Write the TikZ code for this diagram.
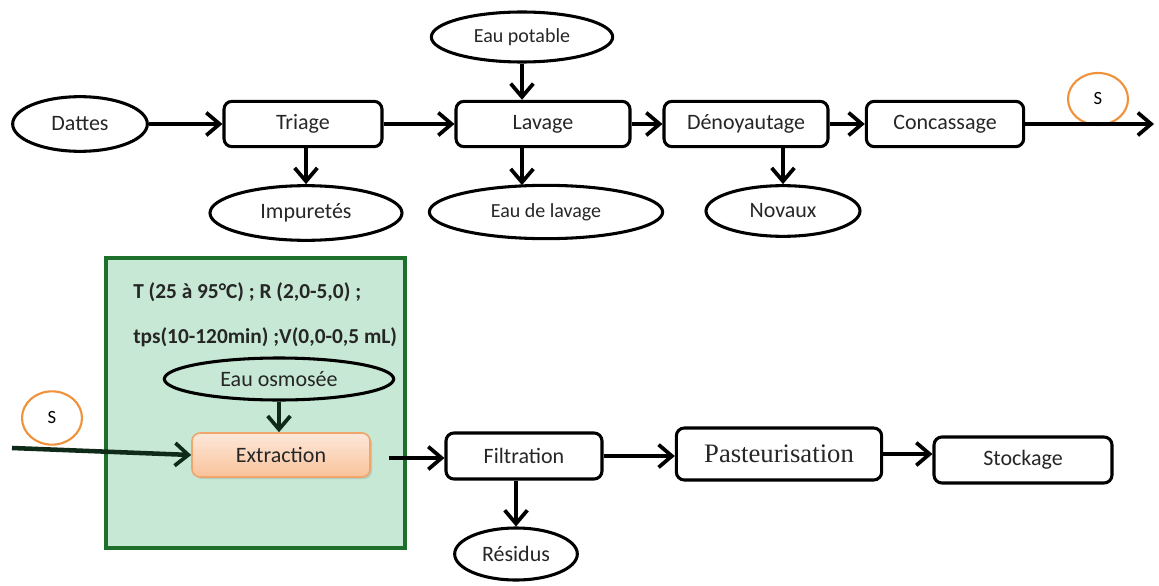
\documentclass[tikz,border=0pt]{standalone}
\usepackage{fontspec}
\setmainfont{Carlito}
\newfontfamily\serifont{Liberation Serif}
\usetikzlibrary{arrows.meta,shapes.geometric,shadows}
\definecolor{boxgreen}{HTML}{C6E8D4}
\definecolor{boxgreenline}{HTML}{1E6E2C}
\definecolor{sorange}{HTML}{F0923C}
\definecolor{extrtop}{HTML}{FDE8DA}
\definecolor{extrbot}{HTML}{F9C29A}
\definecolor{extrline}{HTML}{F0A66A}
\definecolor{txt}{HTML}{262626}
\definecolor{darkarr}{HTML}{0F2A18}
\tikzset{
  proc/.style={draw, line width=2.3pt, rounded corners=6pt, text=txt, font=\fontsize{16.5}{18}\selectfont, inner sep=0pt},
  ell/.style={ellipse, draw, line width=2.3pt, inner sep=0pt, text=txt, font=\fontsize{16.5}{18}\selectfont},
  smallell/.style={ell, font=\fontsize{15}{17}\selectfont},
  scirc/.style={ellipse, draw=sorange, line width=1.6pt, inner sep=0pt, font=\fontsize{14}{16}\selectfont},
  arr/.style={line width=3.4pt, -{Straight Barb[length=10pt,width=17pt,line width=2.8pt]}},
  cond/.style={anchor=west, font=\bfseries\fontsize{16}{18}\selectfont, text=txt, inner sep=0pt}
}
\begin{document}
\begin{tikzpicture}[x=0.75pt,y=-0.75pt]
\useasboundingbox (0,0) rectangle (1159,585);
% top row
\node[ell, minimum width=101pt, minimum height=41pt] (dattes) at (80,124) {Dattes};
\node[proc, minimum width=118.5pt, minimum height=34pt] (triage) at (303,124) {Triage};
\node[proc, minimum width=130.5pt, minimum height=34pt] (lavage) at (543,124) {Lavage};
\node[smallell, minimum width=136pt, minimum height=37.5pt] (eaupot) at (522,37) {Eau potable};
\node[proc, minimum width=123pt, minimum height=34pt] (denoy) at (746,124) {Dénoyautage};
\node[proc, minimum width=118pt, minimum height=34pt] (conc) at (945,124) {Concassage};
\node[scirc, minimum width=45pt, minimum height=39pt] (s1) at (1098,99) {S};
\coordinate (topend) at (1154,124);
\node[ell, minimum width=144pt, minimum height=41pt] (impur) at (306,213) {Impuretés};
\node[smallell, minimum width=175pt, minimum height=40pt] (eaulav) at (546,212) {Eau de lavage};
\node[ell, minimum width=115.5pt, minimum height=38pt] (novaux) at (783,211) {Novaux};

\draw[arr] (dattes) -- (triage);
\draw[arr] (triage) -- (lavage);
\draw[arr] (lavage) -- (denoy);
\draw[arr] (denoy) -- (conc);
\draw[arr] (conc) -- (topend);
\draw[arr] (eaupot.south) -- (eaupot.south |- lavage.north);
\draw[arr] (impur.north |- triage.south) -- (impur.north);
\draw[arr] (eaupot.south |- lavage.south) -- ([yshift=-1pt]eaupot.south |- eaulav.north);
\draw[arr] (novaux.north |- denoy.south) -- (novaux.north);

% bottom row
\node[draw=boxgreenline, fill=boxgreen, line width=3pt, minimum width=224pt, minimum height=217.5pt, inner sep=0pt] (green) at (255.5,403) {};
\node[cond] (c1) at (133,292) {T (25 à 95°C) ; R (2,0-5,0) ;};
\node[cond] (c2) at (133,337) {tps(10-120min) ;V(0,0-0,5 mL)};
\node[ell, fill=boxgreen, minimum width=172pt, minimum height=31.5pt] (eauosm) at (279,379) {Eau osmosée};
\node[draw=extrline, line width=1.2pt, rounded corners=6pt, top color=extrtop, bottom color=extrbot, drop shadow={opacity=0.25, shadow xshift=1.5pt, shadow yshift=-1.5pt}, minimum width=133.5pt, minimum height=33pt, inner sep=0pt, text=txt, font=\fontsize{16.5}{18}\selectfont] (extr) at (281,455) {Extraction};
\node[scirc, minimum width=45pt, minimum height=40pt] (s2) at (52,418) {S};
\coordinate (botstart) at (12,448);
\coordinate (extrout) at (389,458);
\node[proc, minimum width=117pt, minimum height=34.5pt] (filt) at (524,456) {Filtration};
\node[proc, minimum width=154pt, minimum height=39pt, font=\serifont\fontsize{20}{22}\selectfont] (past) at (779,454) {Pasteurisation};
\node[proc, minimum width=133.5pt, minimum height=34.5pt] (stock) at (1023,460) {Stockage};
\node[ell, minimum width=92pt, minimum height=39pt] (resid) at (516,554) {Résidus};

\draw[arr, darkarr] (eauosm) -- (eauosm.south |- extr.north);
\draw[arr, darkarr] (botstart) -- (extr.west);
\draw[arr] (extrout) -- (filt.west |- extrout);
\draw[arr] (filt) -- (filt -| past.west);
\draw[arr] (past) -- (past -| stock.west);
\draw[arr] (resid.north |- filt.south) -- (resid.north);
\end{tikzpicture}
\end{document}
